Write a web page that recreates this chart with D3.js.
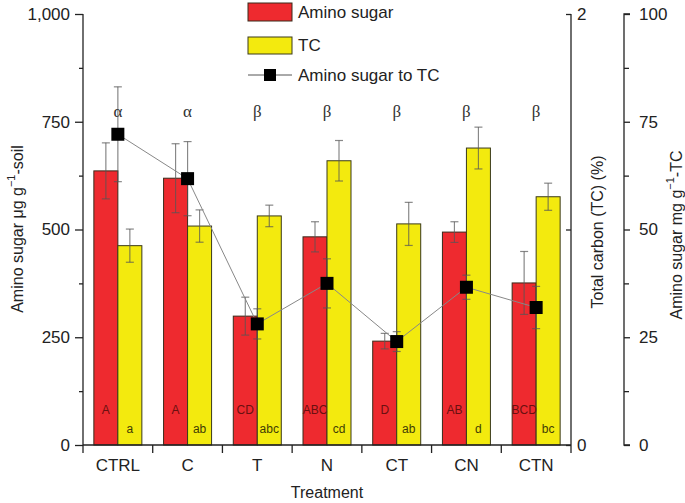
<!DOCTYPE html>
<html>
<head>
<meta charset="utf-8">
<script src="https://cdn.jsdelivr.net/npm/d3@7"></script>
<style>
  body { margin: 0; background: #fff; }
  svg { font-family: "Liberation Sans", Arial, sans-serif; }
  .axis path, .axis line { stroke: #222; stroke-width: 1.3; }
  .axis text { font-size: 17px; fill: #222; }
</style>
</head>
<body>
<svg class="chart" width="685" height="503"></svg>
<script>
// data
const treatments = ['CTRL', 'C', 'T', 'N', 'CT', 'CN', 'CTN']
const aminoSugar = [636, 619, 299, 483, 241, 494, 376]          // μg g-1 soil
const aminoSugarErr = [65, 80, 44, 35, 18, 24, 73]
const totalCarbon = [0.925, 1.016, 1.063, 1.319, 1.026, 1.378, 1.152]  // %
const totalCarbonErr = [0.077, 0.075, 0.05, 0.094, 0.1, 0.097, 0.063]
const ratio = [72.1, 61.8, 28.1, 37.5, 24.0, 36.6, 31.9]       // mg g-1 TC
const ratioErr = [11, 8.6, 3.5, 5.7, 2.3, 2.8, 4.9]
const upperLetters = ['A', 'A', 'CD', 'ABC', 'D', 'AB', 'BCD']
const lowerLetters = ['a', 'ab', 'abc', 'cd', 'ab', 'd', 'bc']
const greek = ['α', 'α', 'β', 'β', 'β', 'β', 'β']

const svg = d3.select('.chart')

const x = d3.scaleBand(treatments, [83, 571])
const yAmino = d3.scaleLinear([0, 1000], [445, 14])
const yTC = d3.scaleLinear([0, 2], [445, 14])
const yRatio = d3.scaleLinear([0, 100], [445, 14])

const barW = 24
const red = '#ee2a2f'
const yellow = '#f3ea0e'

const rows = treatments.map((t, i) => ({
    t, a: aminoSugar[i], ae: aminoSugarErr[i],
    c: totalCarbon[i], ce: totalCarbonErr[i],
    r: ratio[i], re: ratioErr[i],
    up: upperLetters[i], lo: lowerLetters[i], g: greek[i]
}))
const cx = (d) => x(d.t) + x.bandwidth() / 2

// bars
svg.append('g').selectAll('rect')
    .data(rows)
    .join('rect')
        .attr('x', (d) => cx(d) - barW)
        .attr('y', (d) => yAmino(d.a))
        .attr('width', barW)
        .attr('height', (d) => yAmino(0) - yAmino(d.a))
        .attr('fill', red)
        .attr('stroke', '#3a2a1a')
        .attr('stroke-width', 1)

svg.append('g').selectAll('rect')
    .data(rows)
    .join('rect')
        .attr('x', (d) => cx(d))
        .attr('y', (d) => yTC(d.c))
        .attr('width', barW)
        .attr('height', (d) => yTC(0) - yTC(d.c))
        .attr('fill', yellow)
        .attr('stroke', '#3a3a1a')
        .attr('stroke-width', 1)

// error bars
function errorBars(xpos, scale, val, err, cap) {
    const g = svg.append('g')
        .attr('stroke', '#555')
        .attr('stroke-opacity', 0.7)
        .attr('stroke-width', 1.2)
    rows.forEach((d) => {
        const px = xpos(d)
        const top = scale(val(d) + err(d)), bot = scale(val(d) - err(d))
        g.append('line').attr('x1', px).attr('x2', px).attr('y1', top).attr('y2', bot)
        g.append('line').attr('x1', px - cap).attr('x2', px + cap).attr('y1', top).attr('y2', top)
        g.append('line').attr('x1', px - cap).attr('x2', px + cap).attr('y1', bot).attr('y2', bot)
    })
}
errorBars((d) => cx(d) - barW / 2, yAmino, (d) => d.a, (d) => d.ae, 4)
errorBars((d) => cx(d) + barW / 2, yTC, (d) => d.c, (d) => d.ce, 4)

// letters inside bars
svg.append('g').selectAll('text')
    .data(rows)
    .join('text')
        .text((d) => d.up)
        .attr('x', (d) => cx(d) - barW / 2)
        .attr('y', 414)
        .attr('text-anchor', 'middle')
        .attr('font-size', '12px')
        .attr('fill', '#6a1010')

svg.append('g').selectAll('text')
    .data(rows)
    .join('text')
        .text((d) => d.lo)
        .attr('x', (d) => cx(d) + barW / 2)
        .attr('y', 433)
        .attr('text-anchor', 'middle')
        .attr('font-size', '12px')
        .attr('fill', '#3f3c05')

// ratio line
errorBars(cx, yRatio, (d) => d.r, (d) => d.re, 4)

svg.append('path')
    .datum(rows)
    .attr('d', d3.line().x(cx).y((d) => yRatio(d.r)))
    .attr('fill', 'none')
    .attr('stroke', '#888')
    .attr('stroke-width', 1)

svg.append('g').selectAll('rect')
    .data(rows)
    .join('rect')
        .attr('x', (d) => cx(d) - 6.5)
        .attr('y', (d) => yRatio(d.r) - 6.5)
        .attr('width', 13)
        .attr('height', 13)
        .attr('fill', '#000')

// greek letters
svg.append('g').selectAll('text')
    .data(rows)
    .join('text')
        .text((d) => d.g)
        .attr('x', cx)
        .attr('y', 117)
        .attr('text-anchor', 'middle')
        .attr('font-family', '"Liberation Serif", serif')
        .attr('font-size', '17px')
        .attr('fill', '#333')

// axes
const leftAxis = svg.append('g').attr('class', 'axis')
    .attr('transform', 'translate(83,0)')
    .call(d3.axisLeft(yAmino).tickValues([0, 250, 500, 750, 1000])
        .tickFormat(d3.format(',')).tickSize(8).tickPadding(5))
leftAxis.select('.domain').attr('d', 'M0,14V445')
svg.append('g').attr('class', 'axis')
    .attr('transform', 'translate(83,0)')
    .call(d3.axisLeft(yAmino).tickValues([125, 375, 625, 875]).tickFormat('').tickSize(4))
    .select('.domain').remove()

const bottom = svg.append('g').attr('class', 'axis')
    .attr('transform', 'translate(0,445)')
    .call(d3.axisBottom(x).tickSize(0).tickPadding(14))
bottom.select('.domain').attr('d', 'M83,0H571')
bottom.selectAll('.tick text').attr('dy', '0.71em')
svg.append('g').attr('stroke', '#222').attr('stroke-width', 1.3)
    .selectAll('line')
    .data(treatments.concat(['end']))
    .join('line')
        .attr('x1', (d) => d === 'end' ? 571 : x(d))
        .attr('x2', (d) => d === 'end' ? 571 : x(d))
        .attr('y1', 445)
        .attr('y2', 453)

const tcAxis = svg.append('g').attr('class', 'axis')
    .attr('transform', 'translate(571,0)')
    .call(d3.axisRight(yTC).tickValues([0, 1, 2]).tickFormat((d) => d === 1 ? '' : d)
        .tickSize(-5).tickPadding(6))
tcAxis.select('.domain').attr('d', 'M0,14V445')

svg.append('g').attr('class', 'axis')
    .attr('transform', 'translate(624,0)')
    .call(d3.axisRight(yRatio).tickValues([0, 25, 50, 75, 100]).tickSize(6).tickPadding(9))
    .select('.domain').attr('d', 'M6,14H0V445H6')
svg.append('g').attr('class', 'axis')
    .attr('transform', 'translate(624,0)')
    .call(d3.axisRight(yRatio).tickValues([12.5, 37.5, 62.5, 87.5]).tickFormat('').tickSize(5))
    .select('.domain').remove()

// axis titles
const leftTitle = svg.append('text')
    .attr('transform', 'translate(17,229) rotate(-90)')
    .attr('text-anchor', 'middle')
    .attr('dominant-baseline', 'central')
    .attr('font-size', '16px')
    .attr('fill', '#222')
leftTitle.append('tspan').text('Amino sugar μg g')
leftTitle.append('tspan').text('−1').attr('font-size', '11px').attr('dy', -6)
leftTitle.append('tspan').text('-soil').attr('dy', 6)

svg.append('text')
    .text('Total carbon (TC) (%)')
    .attr('transform', 'translate(597,232) rotate(-90)')
    .attr('text-anchor', 'middle')
    .attr('dominant-baseline', 'central')
    .attr('font-size', '16px')
    .attr('fill', '#222')

const rightTitle = svg.append('text')
    .attr('transform', 'translate(676,235) rotate(-90)')
    .attr('text-anchor', 'middle')
    .attr('dominant-baseline', 'central')
    .attr('font-size', '16px')
    .attr('fill', '#222')
rightTitle.append('tspan').text('Amino sugar mg g')
rightTitle.append('tspan').text('−1').attr('font-size', '11px').attr('dy', -6)
rightTitle.append('tspan').text('-TC').attr('dy', 6)

svg.append('text')
    .text('Treatment')
    .attr('x', 327)
    .attr('y', 498)
    .attr('text-anchor', 'middle')
    .attr('font-size', '16px')
    .attr('fill', '#222')

// legend
const legend = svg.append('g').attr('font-size', '17px').attr('fill', '#222')
legend.append('rect').attr('x', 248).attr('y', 3).attr('width', 44).attr('height', 18)
    .attr('fill', red).attr('stroke', '#3a2a1a')
legend.append('text').text('Amino sugar').attr('x', 298).attr('y', 12).attr('dominant-baseline', 'central')
legend.append('rect').attr('x', 248).attr('y', 37).attr('width', 44).attr('height', 17)
    .attr('fill', yellow).attr('stroke', '#3a3a1a')
legend.append('text').text('TC').attr('x', 298).attr('y', 45).attr('dominant-baseline', 'central')
legend.append('line').attr('x1', 248).attr('x2', 292).attr('y1', 75).attr('y2', 75)
    .attr('stroke', '#555')
legend.append('rect').attr('x', 264).attr('y', 69).attr('width', 12).attr('height', 12).attr('fill', '#000')
legend.append('text').text('Amino sugar to TC').attr('x', 298).attr('y', 75).attr('dominant-baseline', 'central')
</script>
</body>
</html>
